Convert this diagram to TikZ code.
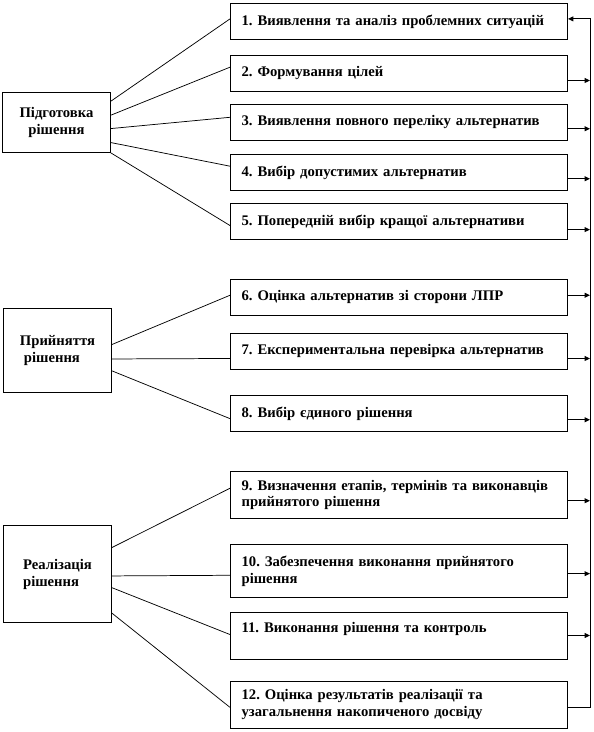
\documentclass[tikz,border=0pt]{standalone}
\usepackage{fontspec}
\setmainfont{Liberation Serif}[BoldFont={Liberation Serif Bold}]
\usetikzlibrary{arrows.meta,calc}
\tikzset{
  stepbox/.style={draw,line width=0.7pt,anchor=north west,minimum width=252.75pt,
    text width=236pt,inner xsep=8.25pt,inner ysep=0pt,align=left},
  stagebox/.style={draw,line width=0.7pt,anchor=north west,minimum width=81pt,
    inner sep=0pt},
  link/.style={line width=0.55pt},
  feed/.style={line width=0.7pt,-{Triangle[length=4pt,width=3.6pt]}}
}
\frenchspacing

\begin{document}
\begin{tikzpicture}[x=0.75pt,y=-0.75pt,font=\fontsize{11}{12.75}\selectfont\bfseries]
  \useasboundingbox (0,0) rectangle (593,732);

  % stages
  \node[stagebox,minimum height=45pt,align=center] (prep) at (2,92)
    {Підготовка\\рішення};
  \node[stagebox,minimum height=63pt,align=left] (adopt) at (3,308)
    {Прийняття\\\hspace*{3pt}рішення};
  \node[stagebox,minimum height=72.75pt,align=left] (impl) at (3,525)
    {Реалізація\\рішення};

  % steps
  \foreach \n/\yy/\hh/\txt in {
      s1/3/27pt/{1. Виявлення та аналіз проблемних ситуацій},
      s2/55/27pt/{2. Формування цілей},
      s3/104/27pt/{3. Виявлення повного переліку альтернатив},
      s4/154/27pt/{4. Вибір допустимих альтернатив},
      s5/203/27pt/{5. Попередній вибір кращої альтернативи},
      s6/279/27pt/{6. Оцінка альтернатив зі сторони ЛПР},
      s7/333/27pt/{7. Експериментальна перевірка альтернатив},
      s8/395/27pt/{8. Вибір єдиного рішення},
      s9/471/35.25pt/{9. Визначення етапів, термінів та виконавців\\прийнятого рішення},
      s10/544/39.75pt/{10. Забезпечення виконання прийнятого\\рішення},
      s11/612/35.25pt/{11. Виконання рішення та контроль\\\mbox{}},
      s12/681/35.25pt/{12. Оцінка результатів реалізації та\\узагальнення накопиченого досвіду}}
    \node[stepbox,minimum height=\hh] (\n) at (230,\yy) {\txt};

  % stage -> step
  \foreach \a/\fa/\b/\fb in {
      prep/0.15/s1/0.43, prep/0.38/s2/0.33, prep/0.6/s3/0.36,
      prep/0.83/s4/0.33, prep/1/s5/0.61,
      adopt/0.43/s6/0.44, adopt/0.6/s7/0.69, adopt/0.74/s8/0.64,
      impl/0.23/s9/0.36, impl/0.52/s10/0.58, impl/0.64/s11/0.47,
      impl/0.9/s12/0.55}
    \draw[link] ($(\a.north east)!\fa!(\a.south east)$)
      -- ($(\b.north west)!\fb!(\b.south west)$);

  % feedback bus
  \coordinate (bus) at (590,0);
  \foreach \n/\f in {s1/0.43,s2/0.69,s3/0.67,s4/0.67,s5/0.72,s6/0.44,
      s7/0.69,s8/0.67,s9/0.62,s10/0.55,s11/0.49,s12/0.55}
    \coordinate (\n r) at ($(\n.north east)!\f!(\n.south east)$);
  \foreach \n in {s2,s3,s4,s5,s6,s7,s8,s9,s10,s11}
    \draw[feed] (\n r) -- (\n r -| bus);
  \draw[feed] (s12r) -- (s12r -| bus) -- (s1r -| bus) -- (s1r);
\end{tikzpicture}
\end{document}
